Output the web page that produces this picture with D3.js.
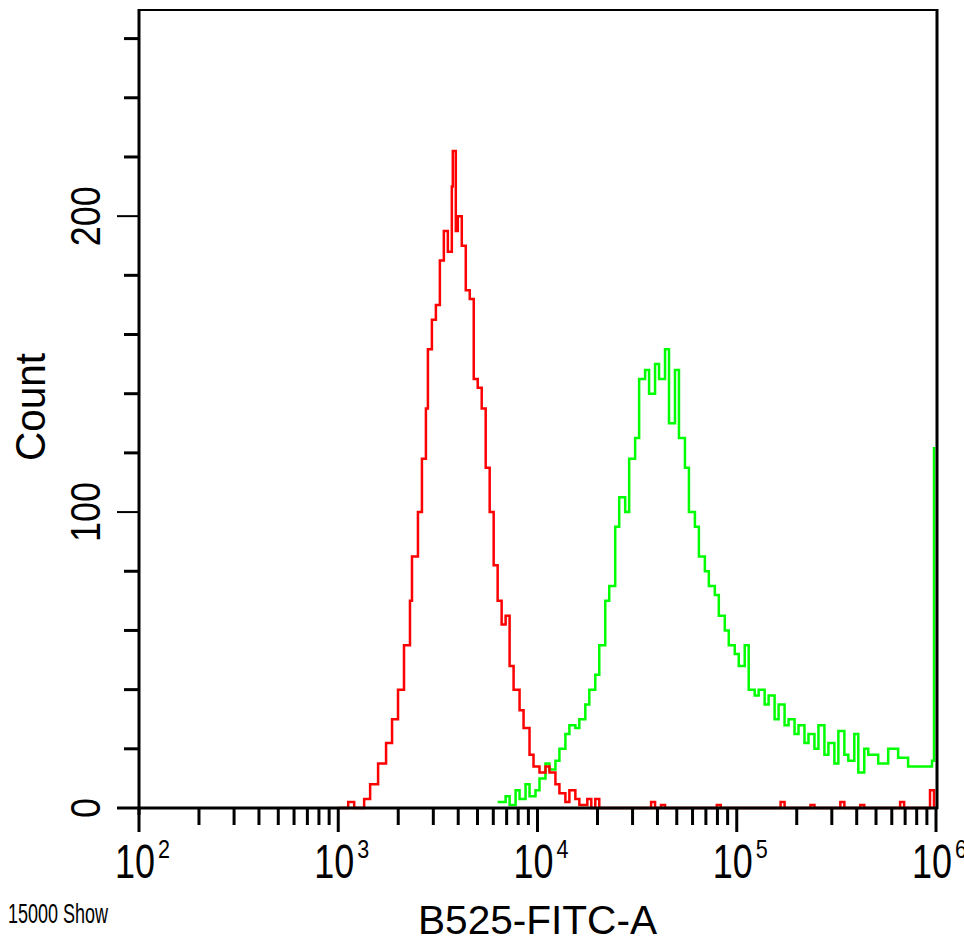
<!DOCTYPE html>
<html><head><meta charset="utf-8">
<script src="https://cdn.jsdelivr.net/npm/d3@7"></script>
<style>body{margin:0;background:#fff}text{font-family:"Liberation Sans",Arial,sans-serif;fill:#000}</style>
</head><body><div id="chart"></div>
<script>
// channel positions as log10 exponents, counts per bin
const redExp = [3.0,3.05,3.08,3.13,3.16,3.2,3.24,3.27,3.3,3.33,3.36,3.37,3.4,3.42,3.44,3.45,3.47,3.49,3.51,3.53,3.55,3.57,3.575,3.59,3.6,3.62,3.64,3.66,3.68,3.7,3.72,3.74,3.76,3.78,3.8,3.82,3.84,3.86,3.88,3.91,3.93,3.96,3.98,4.01,4.04,4.06,4.09,4.11,4.14,4.16,4.19,4.21,4.25,4.27,4.29,4.31,4.57,4.59,4.62,4.64,4.9,4.92,5.22,5.24,5.37,5.39,5.52,5.54,5.62,5.64,5.82,5.84,5.97,5.99];
const redCount = [0,2,0,3,8,15,22,30,40,55,70,85,100,118,135,155,165,170,185,195,188,210,222,195,200,190,175,172,145,142,135,115,100,82,70,62,65,48,40,33,27,18,14,12,14,12,8,5,2,6,3,1,3,0,3,0,2,0,1,0,1,0,2,0,1,0,2,0,1,0,2,0,6,0];

const greenExp = [3.8,3.84,3.86,3.89,3.91,3.94,3.96,3.99,4.01,4.04,4.06,4.09,4.11,4.14,4.16,4.19,4.21,4.24,4.26,4.29,4.31,4.34,4.36,4.39,4.41,4.44,4.46,4.49,4.51,4.54,4.56,4.59,4.61,4.64,4.66,4.69,4.71,4.74,4.76,4.79,4.81,4.84,4.86,4.89,4.91,4.94,4.96,4.99,5.01,5.04,5.06,5.09,5.11,5.14,5.16,5.19,5.21,5.24,5.26,5.29,5.31,5.34,5.36,5.39,5.41,5.44,5.46,5.49,5.51,5.54,5.56,5.59,5.61,5.64,5.66,5.71,5.76,5.81,5.86,5.98,5.99];
const greenCount = [2,4,1,6,3,8,4,6,10,15,13,16,20,25,28,27,30,35,40,45,55,70,75,95,105,100,118,125,145,148,140,150,145,155,130,148,125,115,100,95,85,80,75,72,65,60,55,52,48,55,40,38,40,35,38,30,35,28,30,25,28,22,25,20,28,18,22,15,26,18,16,25,12,20,18,15,20,17,14,16,122];

const yMinor = [20,40,60,80,120,140,160,180,220,240,260];
const yMajor = [0,100,200];
const decades = [2,3,4,5,6];

const W = 964, H = 938;
const svg = d3.select('#chart').append('svg').attr('width', W).attr('height', H);

const x = d3.scaleLog().domain([100, 1e6]).range([139, 936]);
const y = d3.scaleLinear().domain([0, 270]).range([808, 9]);

const line = d3.line().x(d => x(d[0])).y(d => y(d[1])).curve(d3.curveStepAfter);
const red = redExp.map((e, i) => [Math.pow(10, e), redCount[i]]);
const green = greenExp.map((e, i) => [Math.pow(10, e), greenCount[i]]);

svg.append('path').attr('d', line(green)).attr('fill', 'none').attr('stroke', '#00ff00').attr('stroke-width', 2.5);
svg.append('path').attr('d', line(red)).attr('fill', 'none').attr('stroke', '#ff0000').attr('stroke-width', 2.5);

// frame
svg.append('line').attr('x1', 139).attr('x2', 937).attr('y1', 10).attr('y2', 10).attr('stroke', '#000').attr('stroke-width', 2);
svg.append('line').attr('x1', 937).attr('x2', 937).attr('y1', 9).attr('y2', 809).attr('stroke', '#000').attr('stroke-width', 3);
svg.append('line').attr('x1', 139).attr('x2', 139).attr('y1', 9).attr('y2', 815).attr('stroke', '#000').attr('stroke-width', 3);
svg.append('line').attr('x1', 117).attr('x2', 938).attr('y1', 808).attr('y2', 808).attr('stroke', '#000').attr('stroke-width', 3);

// y ticks
svg.selectAll('.ymin').data(yMinor).enter().append('line')
  .attr('x1', 124).attr('x2', 139).attr('y1', d => y(d)).attr('y2', d => y(d))
  .attr('stroke', '#000').attr('stroke-width', 3);
svg.selectAll('.ymaj').data(yMajor).enter().append('line')
  .attr('x1', 117).attr('x2', 139).attr('y1', d => y(d)).attr('y2', d => y(d))
  .attr('stroke', '#000').attr('stroke-width', 2);
svg.selectAll('.ylab').data(yMajor).enter().append('text')
  .attr('transform', d => `translate(100,${y(d)}) rotate(-90)`)
  .attr('text-anchor', 'middle').attr('font-size', 42)
  .attr('textLength', d => String(d).length * 20).attr('lengthAdjust', 'spacingAndGlyphs')
  .text(d => d);

// x ticks
const minors = [];
decades.slice(0, -1).forEach(p => { for (let k = 2; k < 10; k++) minors.push(k * Math.pow(10, p)); });
svg.selectAll('.xmin').data(minors).enter().append('line')
  .attr('x1', d => x(d)).attr('x2', d => x(d)).attr('y1', 808).attr('y2', 825)
  .attr('stroke', '#000').attr('stroke-width', 3);
svg.selectAll('.xmaj').data(decades).enter().append('line')
  .attr('x1', d => x(Math.pow(10, d))).attr('x2', d => x(Math.pow(10, d))).attr('y1', 808).attr('y2', 832)
  .attr('stroke', '#000').attr('stroke-width', 3);
const xl = svg.selectAll('.xlab').data(decades).enter().append('g')
  .attr('transform', d => `translate(${x(Math.pow(10, d))},878)`);
xl.append('text').attr('x', -24).attr('font-size', 48)
  .attr('textLength', 40).attr('lengthAdjust', 'spacingAndGlyphs').text('10');
xl.append('text').attr('x', 19).attr('y', -20).attr('font-size', 26)
  .attr('textLength', 12).attr('lengthAdjust', 'spacingAndGlyphs').text(d => d);

// titles
svg.append('text').attr('x', 8).attr('y', 923).attr('font-size', 28)
  .attr('textLength', 100).attr('lengthAdjust', 'spacingAndGlyphs').text('15000 Show');
svg.append('text').attr('x', 418).attr('y', 934).attr('font-size', 40)
  .attr('textLength', 239).attr('lengthAdjust', 'spacingAndGlyphs').text('B525-FITC-A');
svg.append('text').attr('transform', 'translate(45,407) rotate(-90)')
  .attr('text-anchor', 'middle').attr('font-size', 42)
  .attr('textLength', 108).attr('lengthAdjust', 'spacingAndGlyphs').text('Count');
</script></body></html>
